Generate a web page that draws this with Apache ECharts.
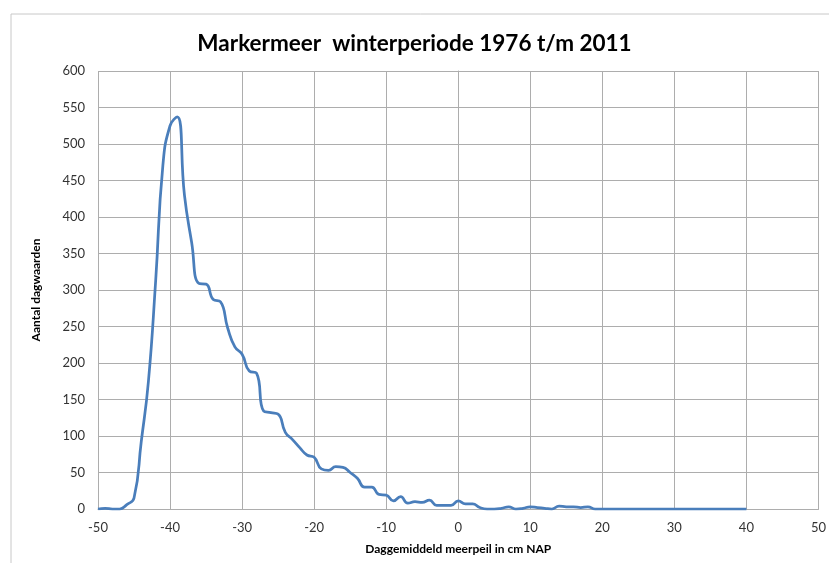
<!DOCTYPE html>
<html>
<head>
<meta charset="utf-8">
<script src="https://cdn.jsdelivr.net/npm/echarts@6/dist/echarts.min.js"></script>
<style>
  html, body { margin: 0; padding: 0; background: #fff; }
  #chart { width: 829px; height: 563px; }
</style>
</head>
<body>
<div id="chart"></div>
<script>
// meerpeil (cm NAP) en aantal dagwaarden
const levels = [];
for (let l = -50; l <= 40; l++) levels.push(l);
const counts = [
  0, 1, 0, 0, 6, 15, 92, 175, 312, 470,      // -50 .. -41
  525, 537, 430, 365, 309, 308, 287, 284, 248, 222, // -40 .. -31
  212, 189, 186, 134, 132, 130, 105, 95, 84, 74,   // -30 .. -21
  71, 55, 53, 58, 57, 50, 42, 30, 30, 20,          // -20 .. -11
  19, 11, 17, 8, 10, 9, 12, 5, 5, 5,               // -10 .. -1
  11, 7, 7, 2, 0, 0, 1, 3, 0, 1,                   // 0 .. 9
  3, 2, 1, 0, 4, 3, 3, 2, 3, 0,                    // 10 .. 19
  0, 0, 0, 0, 0, 0, 0, 0, 0, 0,                    // 20 .. 29
  0, 0, 0, 0, 0, 0, 0, 0, 0, 0, 0                  // 30 .. 40
];
const xTicks = { min: -50, max: 50, step: 10 };
const yTicks = { min: 0, max: 600, step: 50 };

const chart = echarts.init(document.getElementById('chart'));
const gridColor = '#adadad';
const font = 'Lato';
const option = {
  animation: false,
  backgroundColor: '#fff',
  title: {
    text: 'Markermeer  winterperiode 1976 t/m 2011',
    left: 'center',
    top: 27,
    textStyle: {
      fontFamily: font,
      fontWeight: 'bold',
      fontSize: 22.5,
      color: '#000'
    }
  },
  graphic: [{
    type: 'rect',
    shape: { x: 11, y: 14, width: 840, height: 570 },
    style: { fill: 'none', stroke: '#c8c8c8', lineWidth: 1 },
    silent: true
  }],
  grid: { left: 98, right: 7, top: 71, bottom: 54 },
  xAxis: {
    type: 'value',
    min: xTicks.min,
    max: xTicks.max,
    interval: xTicks.step,
    name: 'Daggemiddeld meerpeil in cm NAP',
    nameLocation: 'middle',
    nameGap: 34,
    nameTextStyle: { fontFamily: font, fontWeight: 'bold', fontSize: 12, color: '#000' },
    axisLine: { lineStyle: { color: gridColor } },
    axisTick: { show: false },
    axisLabel: { fontFamily: font, fontSize: 13, color: '#333', margin: 12 },
    splitLine: { show: true, lineStyle: { color: gridColor } }
  },
  yAxis: {
    type: 'value',
    min: yTicks.min,
    max: yTicks.max,
    interval: yTicks.step,
    name: 'Aantal dagwaarden',
    nameLocation: 'middle',
    nameGap: 56,
    nameTextStyle: { fontFamily: font, fontWeight: 'bold', fontSize: 12, color: '#000' },
    axisLine: { show: true, lineStyle: { color: gridColor } },
    axisTick: { show: false },
    axisLabel: { fontFamily: font, fontSize: 13, color: '#333', margin: 13 },
    splitLine: { show: true, lineStyle: { color: gridColor } }
  },
  series: [{
    type: 'line',
    data: levels.map((l, i) => [l, counts[i]]),
    smooth: 0.5,
    showSymbol: false,
    lineStyle: { color: '#4a7ebb', width: 2.75 }
  }]
};
chart.setOption(option);
</script>
</body>
</html>
